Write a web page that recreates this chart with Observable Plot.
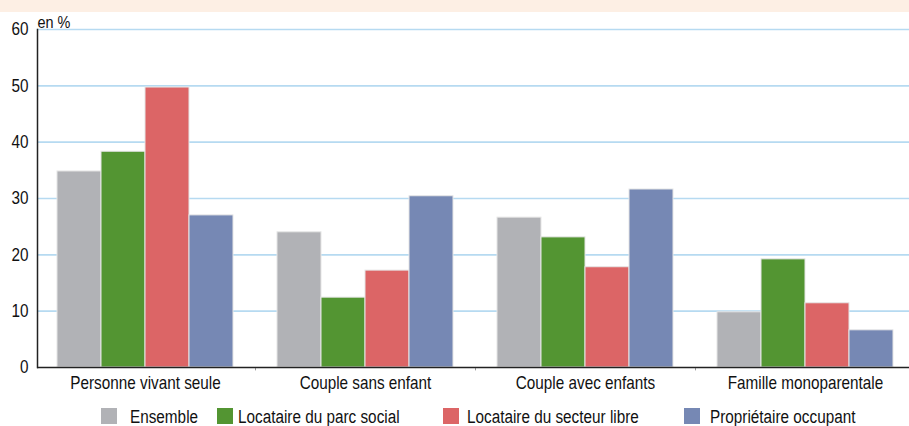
<!DOCTYPE html>
<html>
<head>
<meta charset="utf-8">
<script src="https://cdn.jsdelivr.net/npm/d3@7"></script>
<script src="https://cdn.jsdelivr.net/npm/@observablehq/plot@0.6"></script>
<style>
  html, body { margin: 0; padding: 0; background: #fff; }
  body { font-family: "Liberation Sans", Arial, sans-serif; }
  #wrap { position: relative; width: 909px; height: 426px; overflow: hidden; }
  #band { height: 12px; background: #fdefe4; }
  #legend { position: absolute; top: 408px; left: 0; width: 909px; height: 18px; }
  .sw { position: absolute; top: 0; width: 16px; height: 16px; }
  .lt { position: absolute; top: 0; font-size: 18px; line-height: 18px; color: #111; white-space: nowrap;
        transform: scaleX(0.85); transform-origin: 0 0; }
  svg { display: block; }
</style>
</head>
<body>
<div id="wrap">
  <div id="band"></div>
  <div id="chart"></div>
  <div id="legend"></div>
</div>
<script>
const categories = ["Personne vivant seule", "Couple sans enfant", "Couple avec enfants", "Famille monoparentale"];
const series = ["Ensemble", "Locataire du parc social", "Locataire du secteur libre", "Propriétaire occupant"];
const colors = ["#b1b2b6", "#539532", "#dc6566", "#7688b4"];
const ensemble = [34.8, 24.0, 26.6, 9.8];
const parcSocial = [38.3, 12.4, 23.1, 19.2];
const secteurLibre = [49.7, 17.2, 17.8, 11.4];
const proprietaire = [27.0, 30.4, 31.6, 6.6];
const yTicks = [0, 10, 20, 30, 40, 50, 60];

const values = [ensemble, parcSocial, secteurLibre, proprietaire];
const rows = [];
series.forEach((s, si) => categories.forEach((c, ci) => rows.push({cat: c, series: s, si, value: values[si][ci]})));

const W = 909, H = 388;
const xRange = [35, 915];
const step = (xRange[1] - xRange[0]) / categories.length;
const bw = step * 0.8 / series.length;

const marks = [
  Plot.gridY(yTicks.slice(1), {stroke: "#b6daf1", strokeOpacity: 1, strokeWidth: 1.6}),
  ...series.map((s, si) => Plot.barY(rows.filter(r => r.si === si), {
    x: "cat", y: "value", fill: colors[si],
    stroke: "#e6e6e6", strokeWidth: 1,
    insetLeft: si * bw, insetRight: (series.length - 1 - si) * bw
  })),
  Plot.ruleX(categories.slice(1), {x: d => d, dx: -step / 2, y1: 0, y2: -0.6, stroke: "#999", strokeWidth: 1}),
  Plot.ruleY([0], {stroke: "#222", strokeWidth: 1.5}),
  Plot.frame({anchor: "left", stroke: "#222", strokeWidth: 1.5}),
  Plot.axisY(yTicks, {tickSize: 0, tickPadding: 9, fontSize: 18, label: null, color: "#111"}),
  Plot.axisX({tickSize: 0, tickPadding: 9, fontSize: 18, label: null, color: "#111"}),
  Plot.text(["en %"], {frameAnchor: "top-left", dx: 0, dy: -14, fontSize: 17, fill: "#111", textAnchor: "start"})
];

const chart = Plot.plot({
  width: W, height: H,
  marginLeft: 37, marginRight: 0, marginTop: 17, marginBottom: 33,
  style: {fontFamily: '"Liberation Sans", Arial, sans-serif', background: "transparent", overflow: "visible"},
  x: {domain: categories, range: xRange, paddingInner: 0.2, paddingOuter: 0.1},
  y: {domain: [0, 60]},
  marks
});
document.getElementById("chart").appendChild(chart);

// condensed look: squeeze every text horizontally around its anchor
chart.querySelectorAll("text").forEach(t => {
  const tr = t.getAttribute("transform");
  if (tr) {
    t.setAttribute("transform", tr + " scale(0.85,1)");
  } else {
    const x = parseFloat(t.getAttribute("x"));
    if (isFinite(x)) {
      t.setAttribute("x", x / 0.85);
      t.setAttribute("transform", "scale(0.85,1)");
    }
  }
});

const legendSwatch = [101, 217, 443, 684];
const legendText = [130, 238, 467, 710];
const legend = document.getElementById("legend");
series.forEach((s, i) => {
  const sw = document.createElement("div");
  sw.className = "sw";
  sw.style.left = legendSwatch[i] + "px";
  sw.style.background = colors[i];
  const t = document.createElement("div");
  t.className = "lt";
  t.style.left = legendText[i] + "px";
  t.textContent = s;
  legend.appendChild(sw); legend.appendChild(t);
});
</script>
</body>
</html>
